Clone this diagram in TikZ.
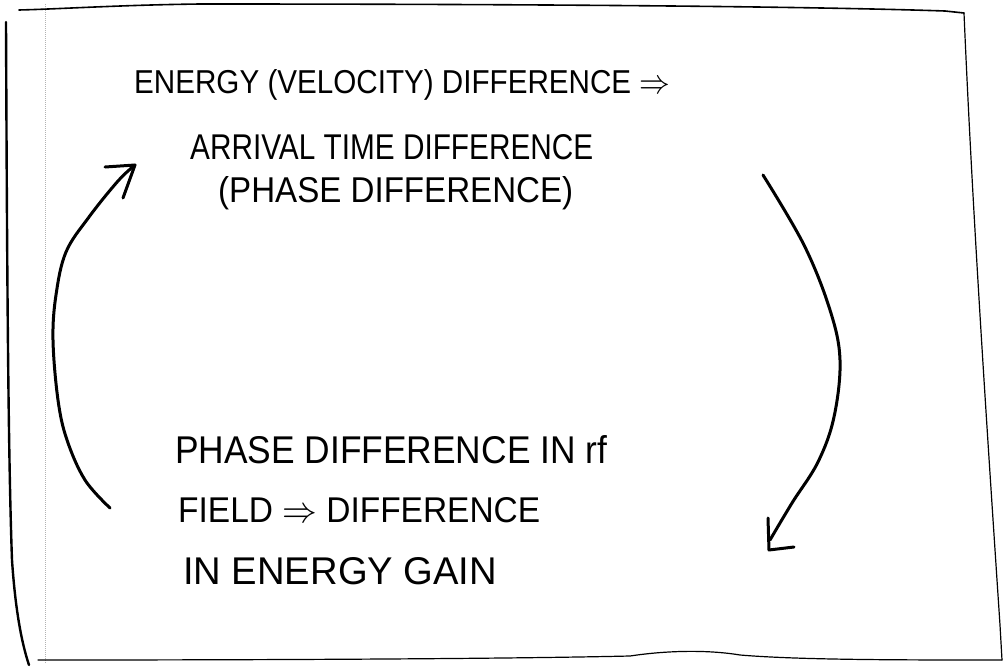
\documentclass[tikz,border=0pt]{standalone}
\usepackage{fontspec}
\setmainfont{Liberation Sans}
\usepackage{graphicx}
\newcommand{\hwline}[3]{\resizebox{#1}{#2}{#3}}
\begin{document}
\begin{tikzpicture}[x=1pt,y=-1pt,
  frame/.style={line width=1.6pt,line cap=round,line join=round},
  thinedge/.style={line width=0.6pt,gray!60,dash pattern=on 1pt off 1pt},
  curvearrow/.style={line width=3pt,line cap=round,line join=round},
  headline/.style={line width=3pt,line cap=round,line join=round},
  hand/.style={anchor=west,inner sep=0pt,font=\fontsize{20}{22}\selectfont}]
\useasboundingbox (0,0) rectangle (1005,667);
\fill[white] (0,0) rectangle (1005,667);
% paper frame
\draw[frame,line width=2.4pt] (6,22) .. controls (7,250) and (8,450) .. (12,560)
  .. controls (16,620) and (24,650) .. (29,665);
\draw[thinedge] (45,4) -- (45,664);
\draw[frame] (19,10) .. controls (60,9) and (120,5) .. (200,4)
  .. controls (500,4) and (800,6) .. (945,11) -- (964,13);
\draw[frame,line width=1.2pt] (964,13) .. controls (972,200) and (985,400) .. (1000,625) -- (1002,660);
\draw[frame,line width=1.2pt] (38,660) .. controls (250,660) and (500,659) .. (630,656)
  .. controls (670,650) and (710,650) .. (740,655)
  .. controls (800,660) and (900,660) .. (1002,660);
% texts
\node[hand] (t1) at (134,85) {\hwline{536pt}{24pt}{ENERGY (VELOCITY) DIFFERENCE $\Rightarrow$}};
\node[hand] (t2) at (190,147) {\hwline{403pt}{25pt}{ARRIVAL TIME DIFFERENCE}};
\node[hand] (t3) at (218,193) {\hwline{355pt}{26pt}{(PHASE DIFFERENCE)}};
\node[hand] (b1) at (175,450) {\hwline{432pt}{28pt}{PHASE DIFFERENCE IN rf}};
\node[hand] (b2) at (178,510) {\hwline{362pt}{25pt}{FIELD $\Rightarrow$ DIFFERENCE}};
\node[hand] (b3) at (183,571) {\hwline{314pt}{27pt}{IN ENERGY GAIN}};
% arrow coordinates
\coordinate (ls) at (110,508);
\coordinate (lt) at (135,165);
\coordinate (rs) at (763,175);
\coordinate (rt) at (770,540);
% left arrow (bottom text -> top text)
\draw[curvearrow] plot[smooth,tension=0.6] coordinates
  {(ls) (85,480) (67,440) (58,400) (53,340) (56,295) (66,252) (89,217) (118,181) (lt)};
\draw[headline] (105,167) -- (lt) -- (123,198);
% right arrow (top text -> bottom text)
\draw[curvearrow] plot[smooth,tension=0.6] coordinates
  {(rs) (804,245) (830,310) (840,360) (834,417) (818,462) (792,503) (rt)};
\draw[headline] (768,518) -- (769,550) -- (794,547);
\end{tikzpicture}
\end{document}
